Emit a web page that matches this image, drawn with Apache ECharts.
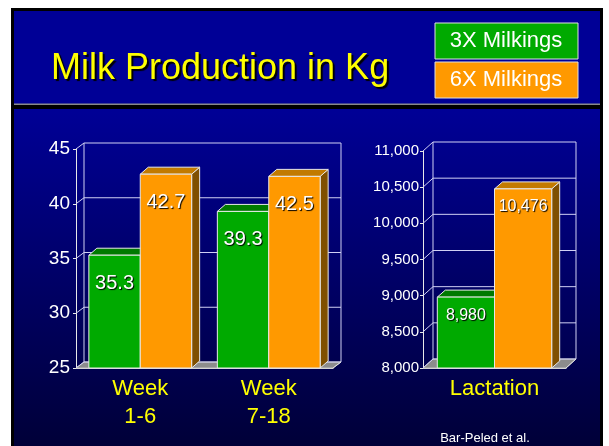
<!DOCTYPE html>
<html>
<head>
<meta charset="utf-8">
<title>Milk Production in Kg</title>
<script src="https://cdn.jsdelivr.net/npm/echarts@6/dist/echarts.min.js"></script>
<style>
html, body { margin: 0; padding: 0; background: #ffffff; }
#chart { width: 609px; height: 446px; }
</style>
</head>
<body>
<div id="chart"></div>
<script>
// data
var titleText = 'Milk Production in Kg';
var seriesNames = ['3X Milkings', '6X Milkings'];
var weekCats = ['Week\n1-6', 'Week\n7-18'];
var week3x = [35.3, 39.3];
var week6x = [42.7, 42.5];
var weekTicks = [25, 30, 35, 40, 45];
var lactCats = ['Lactation'];
var lact3x = [8980];
var lact6x = [10476];
var lactTicks = [8000, 8500, 9000, 9500, 10000, 10500, 11000];
var sourceNote = 'Bar-Peled et al.';

var FONT = "'Liberation Sans', Arial, sans-serif";
var greenSet = { front: '#00aa00', top: '#007a00', side: '#005400' };
var orangeSet = { front: '#ff9900', top: '#c27a00', side: '#7f4f00' };

function fmt(v) {
  return String(v).replace(/\B(?=(\d{3})+(?!\d))/g, ',');
}

function toPairs(arr) {
  return arr.map(function (v, i) { return [i, v]; });
}

// 3D-looking bar: front face + top + right side
function barRenderer(colors, shift, base, labelDist, fontSize) {
  return function (params, api) {
    var cat = api.value(0);
    var val = api.value(1);
    var band = api.size([1, 0])[0];
    var w = band * 0.4;
    var p = api.coord([cat, val]);
    var b = api.coord([cat, base]);
    var x0 = p[0] + shift * band;
    var y0 = p[1];
    var y1 = b[1];
    var dx = 8, dy = -7;
    var edge = '#e8e8e8';
    return {
      type: 'group',
      children: [
        {
          type: 'polygon',
          shape: { points: [[x0 + w, y0], [x0 + w + dx, y0 + dy], [x0 + w + dx, y1 + dy], [x0 + w, y1]] },
          style: { fill: colors.side, stroke: edge, lineWidth: 1 }
        },
        {
          type: 'polygon',
          shape: { points: [[x0, y0], [x0 + dx, y0 + dy], [x0 + w + dx, y0 + dy], [x0 + w, y0]] },
          style: { fill: colors.top, stroke: edge, lineWidth: 1 }
        },
        {
          type: 'rect',
          shape: { x: x0, y: y0, width: w, height: y1 - y0 },
          style: { fill: colors.front, stroke: edge, lineWidth: 1 }
        },
        {
          type: 'text',
          style: {
            text: fmt(val),
            x: x0 + w / 2,
            y: y0 + labelDist,
            align: 'center', verticalAlign: 'middle',
            textAlign: 'center', textVerticalAlign: 'middle',
            fill: '#ffffff',
            font: fontSize + 'px ' + FONT,
            textShadowColor: '#000000', textShadowOffsetX: 1, textShadowOffsetY: 1, textShadowBlur: 1
          }
        }
      ]
    };
  };
}

// back wall, side wall lines and floor
function wallRenderer(ticks, dx, dy) {
  return function (params, api) {
    var cs = params.coordSys;
    var x = cs.x, y = cs.y, w = cs.width, h = cs.height;
    var lineCol = '#d0d0f4';
    var kids = [];
    kids.push({
      type: 'polygon',
      shape: { points: [[x, y + h], [x + dx, y + h + dy], [x + w + dx, y + h + dy], [x + w, y + h]] },
      style: { fill: '#8c8c8c', stroke: '#c0c0c0', lineWidth: 1 }
    });
    ticks.forEach(function (t) {
      var yt = api.coord([0, t])[1];
      kids.push({ type: 'line', shape: { x1: x + dx, y1: yt + dy, x2: x + w + dx, y2: yt + dy }, style: { stroke: lineCol, lineWidth: 1 } });
      kids.push({ type: 'line', shape: { x1: x, y1: yt, x2: x + dx, y2: yt + dy }, style: { stroke: lineCol, lineWidth: 1 } });
    });
    kids.push({ type: 'line', shape: { x1: x + dx, y1: y + dy, x2: x + dx, y2: y + h + dy }, style: { stroke: lineCol, lineWidth: 1 } });
    kids.push({ type: 'line', shape: { x1: x + w + dx, y1: y + dy, x2: x + w + dx, y2: y + h + dy }, style: { stroke: lineCol, lineWidth: 1 } });
    kids.push({ type: 'line', shape: { x1: x + w, y1: y + h, x2: x + w + dx, y2: y + h + dy }, style: { stroke: '#e0e0e0', lineWidth: 1 } });
    return { type: 'group', children: kids };
  };
}

function legendBox(name, color, top) {
  return {
    type: 'group',
    z: 10,
    children: [
      { type: 'rect', shape: { x: 435, y: top, width: 143, height: 36 }, style: { fill: color, stroke: '#e0e0e0', lineWidth: 1 } },
      {
        type: 'text',
        style: {
          text: name, x: 506, y: top + 18,
          align: 'center', verticalAlign: 'middle',
          textAlign: 'center', textVerticalAlign: 'middle',
          fill: '#ffffff', font: '22px ' + FONT,
          textShadowColor: '#202020', textShadowOffsetX: 2, textShadowOffsetY: 2
        }
      }
    ]
  };
}

var myChart = echarts.init(document.getElementById('chart'));

var yAxisBase = {
  type: 'value',
  axisLine: { show: true, lineStyle: { color: '#e8e8e8', width: 1 } },
  axisTick: { show: true, length: 3, lineStyle: { color: '#e8e8e8' } },
  splitLine: { show: false }
};

myChart.setOption({
  backgroundColor: '#ffffff',
  animation: false,
  title: {
    text: titleText,
    left: 51,
    top: 51,
    padding: 0,
    textStyle: {
      color: '#ffff00', fontSize: 36, fontWeight: 'normal', fontFamily: FONT,
      textShadowColor: '#000000', textShadowOffsetX: 2, textShadowOffsetY: 2, textShadowBlur: 1
    }
  },
  graphic: [
    { type: 'rect', z: -10, shape: { x: 11, y: 8, width: 592, height: 438 }, style: { fill: '#000000' } },
    { type: 'rect', z: -9, shape: { x: 14, y: 11, width: 586, height: 93 }, style: { fill: '#000096' } },
    { type: 'rect', z: -9, shape: { x: 14, y: 103.5, width: 586, height: 1.5 }, style: { fill: '#8a8a8a' } },
    {
      type: 'rect', z: -9, shape: { x: 14, y: 109, width: 586, height: 337 },
      style: {
        fill: new echarts.graphic.LinearGradient(0, 0, 0, 1, [
          { offset: 0, color: '#000096' },
          { offset: 1, color: '#000038' }
        ])
      }
    },
    legendBox(seriesNames[0], greenSet.front, 23),
    legendBox(seriesNames[1], orangeSet.front, 62),
    {
      type: 'text', z: 10,
      style: {
        text: sourceNote, x: 485, y: 438,
        align: 'center', verticalAlign: 'middle',
        textAlign: 'center', textVerticalAlign: 'middle',
        fill: '#ffffff', font: '13px ' + FONT
      }
    }
  ],
  grid: [
    { left: 76, top: 149, width: 257, height: 219 },
    { left: 423, top: 151, width: 143, height: 217 }
  ],
  xAxis: [
    {
      type: 'category', gridIndex: 0, data: weekCats,
      axisLine: { lineStyle: { color: '#e8e8e8' } },
      axisTick: { length: 3, lineStyle: { color: '#e8e8e8' } },
      axisLabel: { color: '#ffff00', fontSize: 22, lineHeight: 28, margin: 7, fontFamily: FONT }
    },
    {
      type: 'category', gridIndex: 1, data: lactCats,
      axisLine: { lineStyle: { color: '#e8e8e8' } },
      axisTick: { length: 3, lineStyle: { color: '#e8e8e8' } },
      axisLabel: { color: '#ffff00', fontSize: 22, lineHeight: 28, margin: 7, fontFamily: FONT }
    }
  ],
  yAxis: [
    Object.assign({}, yAxisBase, {
      gridIndex: 0,
      min: weekTicks[0], max: weekTicks[weekTicks.length - 1], interval: weekTicks[1] - weekTicks[0],
      axisLabel: { color: '#ffffff', fontFamily: FONT, fontSize: 19, margin: 6 }
    }),
    Object.assign({}, yAxisBase, {
      gridIndex: 1,
      min: lactTicks[0], max: lactTicks[lactTicks.length - 1], interval: lactTicks[1] - lactTicks[0],
      axisLabel: { color: '#ffffff', fontFamily: FONT, fontSize: 15, margin: 4, formatter: fmt }
    })
  ],
  series: [
    {
      type: 'custom', xAxisIndex: 0, yAxisIndex: 0, z: 1, silent: true,
      renderItem: wallRenderer(weekTicks, 8, -6), data: [[0, weekTicks[0]]]
    },
    {
      type: 'custom', xAxisIndex: 1, yAxisIndex: 1, z: 1, silent: true,
      renderItem: wallRenderer(lactTicks, 10, -9), data: [[0, lactTicks[0]]]
    },
    {
      name: seriesNames[0], type: 'custom', xAxisIndex: 0, yAxisIndex: 0, z: 3,
      renderItem: barRenderer(greenSet, -0.4, weekTicks[0], 28, 20), data: toPairs(week3x)
    },
    {
      name: seriesNames[1], type: 'custom', xAxisIndex: 0, yAxisIndex: 0, z: 3,
      renderItem: barRenderer(orangeSet, 0, weekTicks[0], 28, 20), data: toPairs(week6x)
    },
    {
      name: seriesNames[0], type: 'custom', xAxisIndex: 1, yAxisIndex: 1, z: 3,
      renderItem: barRenderer(greenSet, -0.4, lactTicks[0], 18, 16), data: toPairs(lact3x)
    },
    {
      name: seriesNames[1], type: 'custom', xAxisIndex: 1, yAxisIndex: 1, z: 3,
      renderItem: barRenderer(orangeSet, 0, lactTicks[0], 18, 16), data: toPairs(lact6x)
    }
  ]
});
</script>
</body>
</html>
